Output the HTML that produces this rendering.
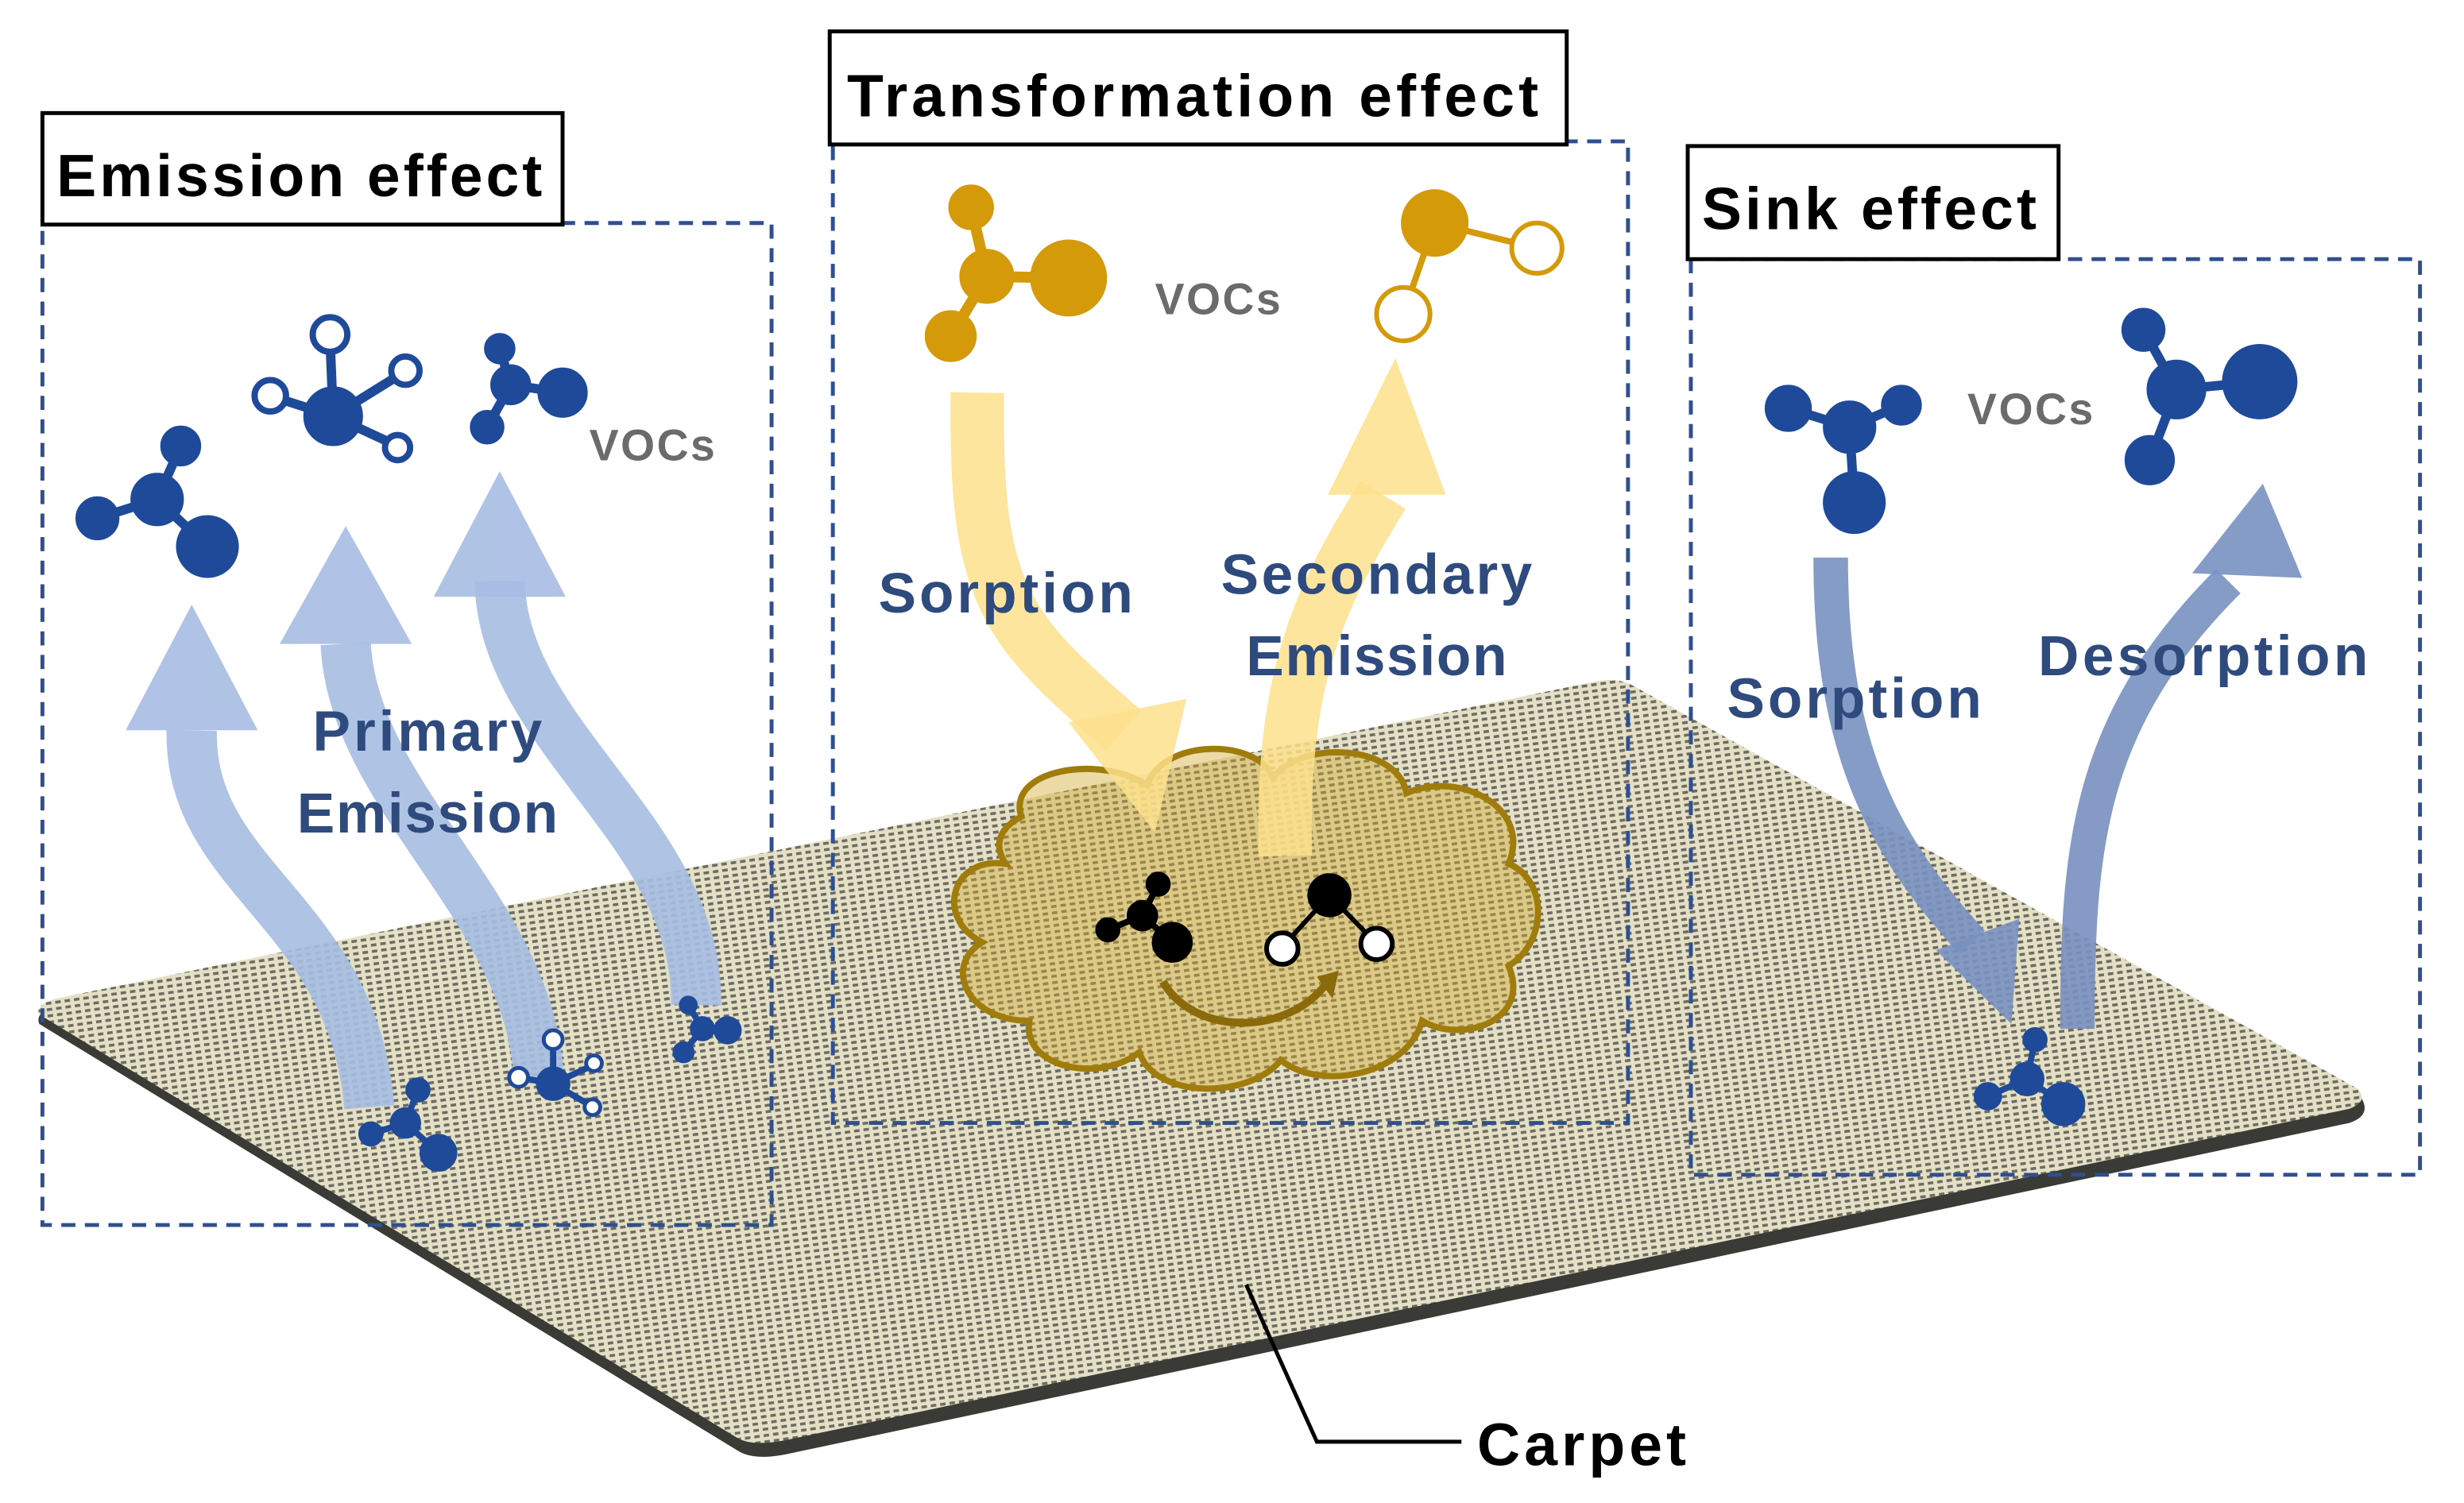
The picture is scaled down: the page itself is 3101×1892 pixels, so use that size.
<!DOCTYPE html>
<html><head><meta charset="utf-8"><style>
html,body{margin:0;padding:0;background:#fff;width:3101px;height:1892px;overflow:hidden}
svg{display:block}
text{font-family:"Liberation Sans","DejaVu Sans",sans-serif;font-weight:bold}
</style></head><body>
<svg width="3101" height="1892" viewBox="0 0 1568 957" preserveAspectRatio="none" xmlns="http://www.w3.org/2000/svg">
<defs>
<pattern id="cp" width="6" height="4" patternUnits="userSpaceOnUse" patternTransform="rotate(-8)">
<rect width="6" height="4" fill="#e4e0c6"/>
<rect x="0" y="0" width="3.5" height="1.8" fill="#6e6c62"/>
</pattern>
</defs>
<!-- carpet -->
<path d="M25,652 L470,924 Q480,930 500,926 L1495,715 Q1510,710 1502,698 L1040,440 Q1030,433 1015,436 L35,640 Q22,645 25,652Z" fill="#3a3a36"/>
<path d="M25,646 L470,916 Q480,921 500,917 L1495,706 Q1508,701 1500,693 L1040,437 Q1030,431 1015,434 L35,636 Q22,640 25,646Z" fill="url(#cp)"/>
<polyline points="793,818 838,918 930,918" fill="none" stroke="#000" stroke-width="2.5"/>
<text x="940" y="933" font-size="38" fill="#000" textLength="133">Carpet</text>

<!-- Emission box -->
<rect x="27" y="142" width="464" height="638" fill="none" stroke="#2f4f8f" stroke-width="2.5" stroke-dasharray="9,6"/>
<rect x="27" y="72" width="331" height="71" fill="#fff" stroke="#000" stroke-width="2.5"/>
<text x="36" y="125" font-size="38" fill="#000" textLength="309">Emission effect</text>
<g fill="none" stroke="#a7bde3" stroke-width="32" opacity="0.9">
<path d="M235,705 C225,580 120,560 122,465"/>
<path d="M343,690 C340,580 225,510 220,410"/>
<path d="M443,640 C445,530 320,470 318,370"/>
</g>
<g fill="#a7bde3" opacity="0.9">
<polygon points="80,465 164,465 122,385"/>
<polygon points="178,410 262,410 220,335"/>
<polygon points="276,380 360,380 318,300"/>
</g>
<text x="272" y="478" font-size="36" fill="#2f4a7d" text-anchor="middle" textLength="146">Primary</text>
<text x="272" y="530" font-size="36" fill="#2f4a7d" text-anchor="middle" textLength="166">Emission</text>
<text x="375" y="293" font-size="28" fill="#6b6b6b" textLength="80">VOCs</text>
<g stroke="#1f4a9a" stroke-width="6" fill="#1f4a9a">
<line x1="62" y1="330" x2="100" y2="318"/><line x1="100" y1="318" x2="115" y2="284"/><line x1="100" y1="318" x2="132" y2="348"/>
<circle cx="62" cy="330" r="11"/><circle cx="100" cy="318" r="14"/><circle cx="115" cy="284" r="10"/><circle cx="132" cy="348" r="17"/>
<line x1="212" y1="265" x2="210" y2="215"/><line x1="212" y1="265" x2="172" y2="252"/><line x1="212" y1="265" x2="257" y2="237"/><line x1="212" y1="265" x2="253" y2="284"/>
<circle cx="212" cy="265" r="16"/>
<line x1="325" y1="245" x2="318" y2="222"/><line x1="325" y1="245" x2="358" y2="250"/><line x1="325" y1="245" x2="310" y2="272"/>
<circle cx="325" cy="245" r="10"/><circle cx="318" cy="222" r="7"/><circle cx="358" cy="250" r="13"/><circle cx="310" cy="272" r="8"/>
</g>
<g fill="#fff" stroke="#1f4a9a" stroke-width="4">
<circle cx="210" cy="213" r="11"/><circle cx="172" cy="252" r="10"/><circle cx="258" cy="236" r="9"/><circle cx="253" cy="285" r="8"/>
</g>
<g stroke="#1f4a9a" stroke-width="4" fill="#1f4a9a">
<line x1="258" y1="715" x2="236" y2="722"/><line x1="258" y1="715" x2="266" y2="694"/><line x1="258" y1="715" x2="279" y2="734"/>
<circle cx="258" cy="715" r="8"/><circle cx="236" cy="722" r="6"/><circle cx="266" cy="694" r="6"/><circle cx="279" cy="734" r="10"/>
<line x1="352" y1="690" x2="330" y2="686"/><line x1="352" y1="690" x2="352" y2="663"/><line x1="352" y1="690" x2="378" y2="678"/><line x1="352" y1="690" x2="376" y2="704"/>
<circle cx="352" cy="690" r="9"/>
<line x1="447" y1="655" x2="438" y2="640"/><line x1="447" y1="655" x2="463" y2="656"/><line x1="447" y1="655" x2="435" y2="670"/>
<circle cx="447" cy="655" r="6"/><circle cx="438" cy="640" r="4"/><circle cx="463" cy="656" r="7"/><circle cx="435" cy="670" r="5"/>
</g>
<g fill="#fff" stroke="#1f4a9a" stroke-width="2.5"><circle cx="330" cy="686" r="6"/><circle cx="352" cy="662" r="6"/><circle cx="378" cy="677" r="5"/><circle cx="377" cy="705" r="5"/></g>

<!-- Transformation box -->
<rect x="530" y="90" width="506" height="625" fill="none" stroke="#2f4f8f" stroke-width="2.5" stroke-dasharray="9,6"/>
<path d="M650,520 C640,490 700,480 730,500 C740,470 800,470 810,495 C830,470 890,475 895,505 C930,490 975,515 960,550 C985,560 985,600 960,615 C975,650 930,665 905,650 C895,685 840,695 815,675 C795,700 735,700 725,670 C700,690 650,680 655,650 C615,650 600,615 625,600 C595,585 605,545 640,550 C630,535 640,525 650,520Z" fill="#d2a92a" fill-opacity="0.42" stroke="#a07c0c" stroke-width="4"/>
<g fill="none" stroke="#fde18c" stroke-width="34" opacity="0.85">
<path d="M622,250 C620,380 640,400 715,465"/>
<path d="M818,545 C815,430 840,380 880,315"/>
</g>
<g fill="#fde18c" opacity="0.85">
<polygon points="680,460 755,445 735,530"/>
<polygon points="845,315 920,315 888,228"/>
</g>
<text x="640" y="390" font-size="36" fill="#2f4a7d" text-anchor="middle" textLength="162">Sorption</text>
<text x="876" y="378" font-size="36" fill="#2f4a7d" text-anchor="middle" textLength="198">Secondary</text>
<text x="876" y="430" font-size="36" fill="#2f4a7d" text-anchor="middle" textLength="166">Emission</text>
<rect x="528" y="20" width="469" height="72" fill="#fff" stroke="#000" stroke-width="2.5"/>
<text x="539" y="74" font-size="38" fill="#000" textLength="440">Transformation effect</text>
<text x="735" y="200" font-size="28" fill="#6b6b6b" textLength="80">VOCs</text>
<g stroke="#d49a0a" stroke-width="7" fill="#d49a0a">
<line x1="618" y1="132" x2="628" y2="176"/><line x1="628" y1="176" x2="680" y2="177"/><line x1="628" y1="176" x2="605" y2="214"/>
<circle cx="618" cy="132" r="11"/><circle cx="628" cy="176" r="14"/><circle cx="680" cy="177" r="21"/><circle cx="605" cy="214" r="13"/>
<line x1="913" y1="142" x2="978" y2="158" stroke-width="4"/><line x1="913" y1="142" x2="893" y2="200" stroke-width="4"/>
<circle cx="913" cy="142" r="18"/>
</g>
<g fill="#fff" stroke="#d49a0a" stroke-width="3"><circle cx="978" cy="158" r="16"/><circle cx="893" cy="200" r="17"/></g>
<g stroke="#000" stroke-width="4" fill="#000">
<line x1="705" y1="592" x2="727" y2="583"/><line x1="727" y1="583" x2="737" y2="563"/><line x1="727" y1="583" x2="746" y2="600"/>
<circle cx="705" cy="592" r="6"/><circle cx="727" cy="583" r="8"/><circle cx="737" cy="563" r="6"/><circle cx="746" cy="600" r="11"/>
<line x1="846" y1="570" x2="816" y2="603" stroke-width="3"/><line x1="846" y1="570" x2="876" y2="601" stroke-width="3"/>
<circle cx="846" cy="570" r="12"/>
</g>
<g fill="#fff" stroke="#000" stroke-width="3"><circle cx="816" cy="604" r="10"/><circle cx="876" cy="601" r="10"/></g>
<path d="M740,625 C760,660 820,660 845,625" fill="none" stroke="#8a6a0a" stroke-width="5"/>
<polygon points="838,622 852,618 848,636" fill="#8a6a0a"/>

<!-- Sink box -->
<rect x="1076" y="165" width="464" height="583" fill="none" stroke="#2f4f8f" stroke-width="2.5" stroke-dasharray="9,6"/>
<rect x="1074" y="93" width="236" height="72" fill="#fff" stroke="#000" stroke-width="2.5"/>
<text x="1083" y="146" font-size="38" fill="#000" textLength="213">Sink effect</text>
<g fill="none" stroke="#7891c0" stroke-width="22" opacity="0.9">
<path d="M1165,355 C1165,480 1200,540 1255,600"/>
<path d="M1322,655 C1322,540 1328,460 1418,370"/>
</g>
<g fill="#7891c0" opacity="0.9">
<polygon points="1232,605 1285,585 1280,652"/>
<polygon points="1395,365 1465,368 1440,308"/>
</g>
<text x="1180" y="457" font-size="36" fill="#2f4a7d" text-anchor="middle" textLength="162">Sorption</text>
<text x="1402" y="430" font-size="36" fill="#2f4a7d" text-anchor="middle" textLength="210">Desorption</text>
<text x="1252" y="270" font-size="28" fill="#6b6b6b" textLength="80">VOCs</text>
<g stroke="#1f4a9a" stroke-width="6" fill="#1f4a9a">
<line x1="1138" y1="260" x2="1177" y2="272"/><line x1="1177" y1="272" x2="1210" y2="258"/><line x1="1177" y1="272" x2="1180" y2="320"/>
<circle cx="1138" cy="260" r="12"/><circle cx="1177" cy="272" r="14"/><circle cx="1210" cy="258" r="10"/><circle cx="1180" cy="320" r="17"/>
<line x1="1364" y1="210" x2="1385" y2="248"/><line x1="1385" y1="248" x2="1438" y2="243"/><line x1="1385" y1="248" x2="1368" y2="293"/>
<circle cx="1364" cy="210" r="11"/><circle cx="1385" cy="248" r="16"/><circle cx="1438" cy="243" r="21"/><circle cx="1368" cy="293" r="13"/>
<line x1="1290" y1="687" x2="1295" y2="662" stroke-width="4"/><line x1="1290" y1="687" x2="1265" y2="698" stroke-width="4"/><line x1="1290" y1="687" x2="1313" y2="703" stroke-width="4"/>
<circle cx="1290" cy="687" r="8"/><circle cx="1295" cy="662" r="5"/><circle cx="1265" cy="698" r="6"/><circle cx="1313" cy="703" r="11"/>
</g>
</svg>
</body></html>
